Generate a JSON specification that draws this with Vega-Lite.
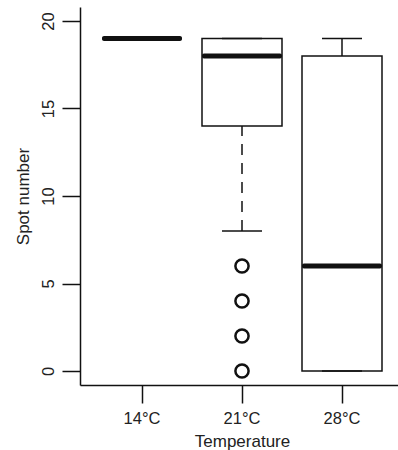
{
  "$schema": "https://vega.github.io/schema/vega-lite/v6.json",
  "width": 324,
  "height": 378,
  "autosize": "none",
  "padding": {"left": 80, "top": 7, "right": 0, "bottom": 65},
  "background": "white",
  "config": {
    "view": {"stroke": null},
    "font": "Liberation Sans",
    "axis": {
      "grid": false,
      "domainColor": "#111111",
      "domainWidth": 1.5,
      "tickColor": "#111111",
      "tickWidth": 1.5,
      "tickSize": 18,
      "labelFont": "Liberation Sans",
      "labelFontSize": 16.5,
      "labelColor": "#222222",
      "titleFont": "Liberation Sans",
      "titleFontSize": 17,
      "titleFontWeight": "normal",
      "titleColor": "#222222"
    }
  },
  "datasets": {
    "stats": [
      {"Temperature": "14°C", "lower": 19, "q1": 19, "median": 19, "q3": 19, "upper": 19},
      {"Temperature": "21°C", "lower": 8, "q1": 14, "median": 18, "q3": 19, "upper": 19},
      {"Temperature": "28°C", "lower": 0, "q1": 0, "median": 6, "q3": 18, "upper": 19}
    ],
    "outliers": [
      {"Temperature": "21°C", "value": 6},
      {"Temperature": "21°C", "value": 4},
      {"Temperature": "21°C", "value": 2},
      {"Temperature": "21°C", "value": 0}
    ]
  },
  "encoding": {
    "x": {
      "field": "Temperature",
      "type": "nominal",
      "scale": {"domain": ["14°C", "21°C", "28°C"], "paddingInner": 0.2, "paddingOuter": 0.22},
      "axis": {
        "title": "Temperature",
        "labelAngle": 0,
        "labelBaseline": "alphabetic",
        "labelPadding": 20,
        "titleBaseline": "alphabetic",
        "titleX": 162,
        "titleY": 61,
        "titleAnchor": "middle"
      }
    }
  },
  "layer": [
    {
      "data": {"name": "stats"},
      "mark": {"type": "rule", "color": "#111111", "strokeWidth": 1.5},
      "encoding": {
        "y": {
          "field": "q3",
          "type": "quantitative",
          "scale": {"domain": [-0.8, 20.8], "nice": false, "zero": false},
          "axis": {
            "title": "Spot number",
            "values": [0, 5, 10, 15, 20],
            "labelAngle": 270,
            "labelAlign": "center",
            "labelBaseline": "alphabetic",
            "labelPadding": 8.5,
            "titleAngle": 270,
            "titleAlign": "center",
            "titleBaseline": "alphabetic",
            "titleX": -52,
            "titleY": 189,
            "titleAnchor": "middle"
          }
        },
        "y2": {"field": "upper"}
      }
    },
    {
      "data": {"name": "stats"},
      "mark": {"type": "rule", "color": "#111111", "strokeWidth": 1.5, "strokeDash": [11, 8]},
      "encoding": {
        "y": {"field": "lower", "type": "quantitative"},
        "y2": {"field": "q1"}
      }
    },
    {
      "data": {"name": "stats"},
      "mark": {"type": "bar", "fill": "white", "stroke": "#111111", "strokeWidth": 1.5},
      "encoding": {
        "y": {"field": "q1", "type": "quantitative"},
        "y2": {"field": "q3"}
      }
    },
    {
      "data": {"name": "stats"},
      "mark": {"type": "tick", "color": "#111111", "size": 40, "thickness": 1.5, "opacity": 1},
      "encoding": {
        "y": {"field": "upper", "type": "quantitative"}
      }
    },
    {
      "data": {"name": "stats"},
      "mark": {"type": "tick", "color": "#111111", "size": 40, "thickness": 1.5, "opacity": 1},
      "encoding": {
        "y": {"field": "lower", "type": "quantitative"}
      }
    },
    {
      "data": {"name": "stats"},
      "mark": {"type": "tick", "color": "#111111", "size": 80, "thickness": 5, "opacity": 1, "cornerRadius": 2},
      "encoding": {
        "y": {"field": "median", "type": "quantitative"}
      }
    },
    {
      "data": {"name": "outliers"},
      "mark": {"type": "point", "shape": "circle", "filled": false, "color": "#111111", "size": 174, "strokeWidth": 2.5, "opacity": 1},
      "encoding": {
        "y": {"field": "value", "type": "quantitative"}
      }
    }
  ]
}
